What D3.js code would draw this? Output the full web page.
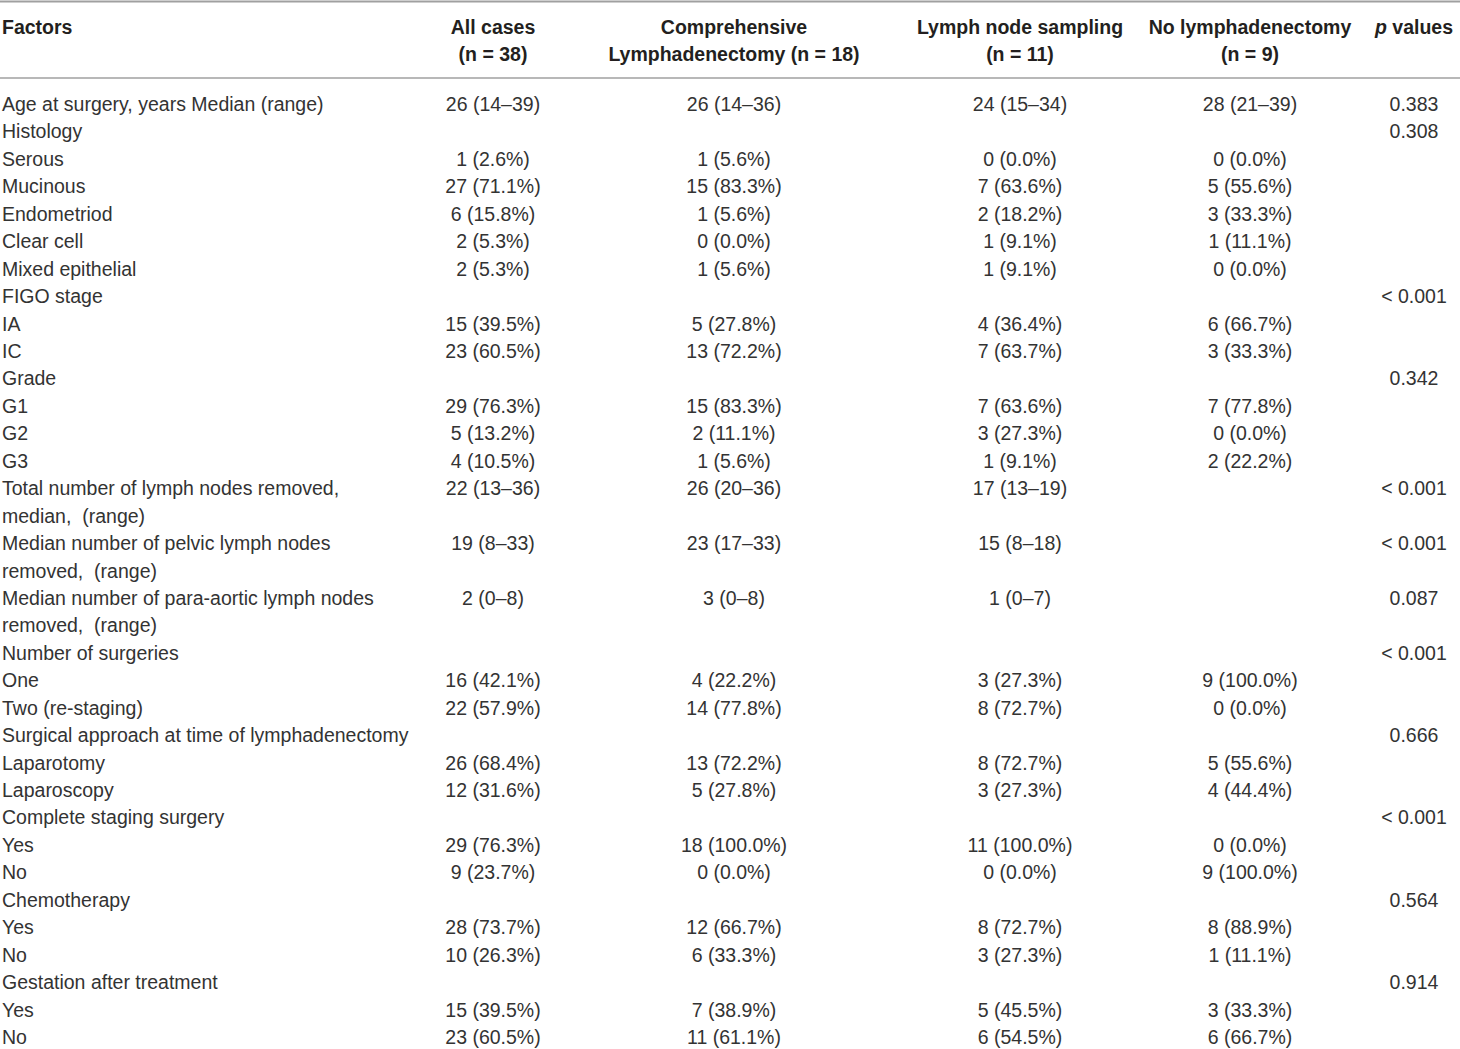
<!DOCTYPE html>
<html>
<head>
<meta charset="utf-8">
<script src="https://cdn.jsdelivr.net/npm/d3@7"></script>
<style>
   body { margin: 0; background: #fff; }
   svg text { font-family: "Liberation Sans", Arial, sans-serif; }
</style>
</head>
<body>
<div id="table"></div>
<script>
// column headers (each entry = lines of header text)
var headers = [
   ["Factors"],
   ["All cases", "(n = 38)"],
   ["Comprehensive", "Lymphadenectomy (n = 18)"],
   ["Lymph node sampling", "(n = 11)"],
   ["No lymphadenectomy", "(n = 9)"],
   ["p values"]
];

var factors = [
   "Age at surgery, years Median (range)",
   "Histology",
   "Serous",
   "Mucinous",
   "Endometriod",
   "Clear cell",
   "Mixed epithelial",
   "FIGO stage",
   "IA",
   "IC",
   "Grade",
   "G1",
   "G2",
   "G3",
   "Total number of lymph nodes removed,\nmedian,  (range)",
   "Median number of pelvic lymph nodes\nremoved,  (range)",
   "Median number of para-aortic lymph nodes\nremoved,  (range)",
   "Number of surgeries",
   "One",
   "Two (re-staging)",
   "Surgical approach at time of lymphadenectomy",
   "Laparotomy",
   "Laparoscopy",
   "Complete staging surgery",
   "Yes",
   "No",
   "Chemotherapy",
   "Yes",
   "No",
   "Gestation after treatment",
   "Yes",
   "No"
];

var allCases = [
   "26 (14–39)", "", "1 (2.6%)", "27 (71.1%)", "6 (15.8%)", "2 (5.3%)", "2 (5.3%)",
   "", "15 (39.5%)", "23 (60.5%)", "", "29 (76.3%)", "5 (13.2%)", "4 (10.5%)",
   "22 (13–36)", "19 (8–33)", "2 (0–8)", "", "16 (42.1%)", "22 (57.9%)",
   "", "26 (68.4%)", "12 (31.6%)", "", "29 (76.3%)", "9 (23.7%)",
   "", "28 (73.7%)", "10 (26.3%)", "", "15 (39.5%)", "23 (60.5%)"
];

var comprehensive = [
   "26 (14–36)", "", "1 (5.6%)", "15 (83.3%)", "1 (5.6%)", "0 (0.0%)", "1 (5.6%)",
   "", "5 (27.8%)", "13 (72.2%)", "", "15 (83.3%)", "2 (11.1%)", "1 (5.6%)",
   "26 (20–36)", "23 (17–33)", "3 (0–8)", "", "4 (22.2%)", "14 (77.8%)",
   "", "13 (72.2%)", "5 (27.8%)", "", "18 (100.0%)", "0 (0.0%)",
   "", "12 (66.7%)", "6 (33.3%)", "", "7 (38.9%)", "11 (61.1%)"
];

var sampling = [
   "24 (15–34)", "", "0 (0.0%)", "7 (63.6%)", "2 (18.2%)", "1 (9.1%)", "1 (9.1%)",
   "", "4 (36.4%)", "7 (63.7%)", "", "7 (63.6%)", "3 (27.3%)", "1 (9.1%)",
   "17 (13–19)", "15 (8–18)", "1 (0–7)", "", "3 (27.3%)", "8 (72.7%)",
   "", "8 (72.7%)", "3 (27.3%)", "", "11 (100.0%)", "0 (0.0%)",
   "", "8 (72.7%)", "3 (27.3%)", "", "5 (45.5%)", "6 (54.5%)"
];

var noLymph = [
   "28 (21–39)", "", "0 (0.0%)", "5 (55.6%)", "3 (33.3%)", "1 (11.1%)", "0 (0.0%)",
   "", "6 (66.7%)", "3 (33.3%)", "", "7 (77.8%)", "0 (0.0%)", "2 (22.2%)",
   "", "", "", "", "9 (100.0%)", "0 (0.0%)",
   "", "5 (55.6%)", "4 (44.4%)", "", "0 (0.0%)", "9 (100.0%)",
   "", "8 (88.9%)", "1 (11.1%)", "", "3 (33.3%)", "6 (66.7%)"
];

var pValues = [
   "0.383", "0.308", "", "", "", "", "",
   "< 0.001", "", "", "0.342", "", "", "",
   "< 0.001", "< 0.001", "0.087", "< 0.001", "", "",
   "0.666", "", "", "< 0.001", "", "",
   "0.564", "", "", "0.914", "", ""
];

var width = 1460, height = 1049;

var svg = d3.select('#table')
   .append('svg')
   .attr('width', width)
   .attr('height', height);

// x position of each column (first one left aligned, others centered)
var colX = d3.scaleOrdinal()
   .domain(d3.range(6))
   .range([2, 493, 734, 1020, 1250, 1414]);

// line index -> baseline
var lineY = d3.scaleLinear()
   .domain([0, 34])
   .range([111, 1044]);

var textColor = '#333333';
var headColor = '#231f20';
var ruleColor = '#a0a0a0';

// rules
svg.append('line')
   .attr('x1', 0).attr('x2', width)
   .attr('y1', 1.5).attr('y2', 1.5)
   .attr('stroke', ruleColor).attr('stroke-width', 2);
svg.append('line')
   .attr('x1', 0).attr('x2', width)
   .attr('y1', 78).attr('y2', 78)
   .attr('stroke', ruleColor).attr('stroke-width', 1.5);

// header
headers.forEach(function (lines, c) {
   var t = svg.append('text')
      .attr('x', colX(c))
      .attr('y', 34)
      .attr('text-anchor', c === 0 ? 'start' : 'middle')
      .attr('font-size', '19.5px')
      .attr('font-weight', 'bold')
      .attr('fill', headColor)
      .attr('xml:space', 'preserve');
   if (c === 5) {
      t.append('tspan').attr('font-style', 'italic').text('p');
      t.append('tspan').text(' values');
      return;
   }
   lines.forEach(function (s, i) {
      t.append('tspan')
         .attr('x', colX(c))
         .attr('dy', i === 0 ? 0 : 27)
         .text(s);
   });
});

// body rows
var rows = [];
var line = 0;
factors.forEach(function (f, i) {
   var labelLines = f.split('\n');
   rows.push({
      line: line,
      cells: [labelLines, [allCases[i]], [comprehensive[i]], [sampling[i]], [noLymph[i]], [pValues[i]]]
   });
   line += labelLines.length;
});

var rowG = svg.selectAll('g.row')
   .data(rows)
   .enter()
   .append('g')
   .attr('class', 'row');

rowG.each(function (r) {
   var g = d3.select(this);
   r.cells.forEach(function (lines, c) {
      lines.forEach(function (s, k) {
         if (!s) return;
         g.append('text')
            .attr('x', colX(c))
            .attr('y', lineY(r.line + k))
            .attr('text-anchor', c === 0 ? 'start' : 'middle')
            .attr('font-size', '19.5px')
            .attr('fill', textColor)
            .attr('xml:space', 'preserve')
            .text(s);
      });
   });
});
</script>
</body>
</html>
